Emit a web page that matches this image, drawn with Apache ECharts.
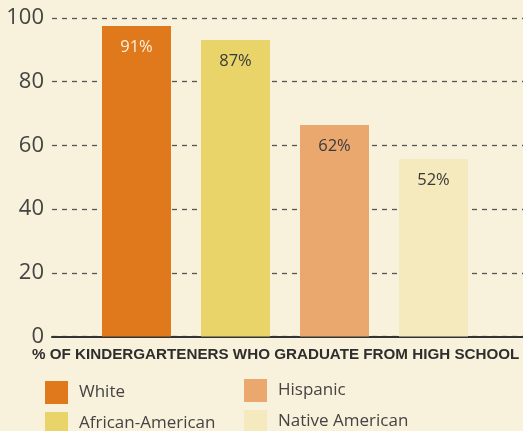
<!DOCTYPE html>
<html>
<head>
<meta charset="utf-8">
<script src="https://cdn.jsdelivr.net/npm/echarts@6/dist/echarts.min.js"></script>
<style>
html,body{margin:0;padding:0;background:#F8F1DB;}
#c{width:523px;height:431px;}
</style>
</head>
<body>
<div id="c"></div>
<script>
const categories = ['White', 'African-American', 'Hispanic', 'Native American'];
const barValues = [97.5, 93.1, 66.4, 55.7];
const barLabels = ['91%', '87%', '62%', '52%'];
const colors = ['#E0791C', '#E8D468', '#EBA86E', '#F5E9BE'];
const labelColors = ['#FAF0DC', '#3A3A3A', '#3A3A3A', '#3A3A3A'];
const yTicks = [0, 20, 40, 60, 80, 100];
const axisTitle = '% OF KINDERGARTENERS WHO GRADUATE FROM HIGH SCHOOL';

const chart = echarts.init(document.getElementById('c'));
const font = '"Open Sans", "Noto Sans", sans-serif';

const series = categories.map((name, i) => ({
  name: name,
  type: 'bar',
  stack: 'all',
  xAxisIndex: 1,
  yAxisIndex: 1,
  barWidth: 69,
  itemStyle: { color: colors[i] },
  label: {
    show: true,
    position: 'insideTop',
    distance: 13,
    color: labelColors[i],
    fontSize: 16.5,
    fontFamily: font,
    formatter: () => barLabels[i]
  },
  data: categories.map((c, j) => (j === i ? barValues[i] : '-'))
}));

const legendPos = [[45, 381], [45, 412], [244, 379], [244, 410]];
const legends = categories.map((name, i) => ({
  left: legendPos[i][0], top: legendPos[i][1],
  itemWidth: 23, itemHeight: 23, padding: 0,
  data: [name],
  textStyle: { color: '#444', fontSize: 17, fontFamily: font, padding: [0, 0, 0, 6] },
  icon: 'rect', selectedMode: false
}));

chart.setOption({
  backgroundColor: '#F8F1DB',
  animation: false,
  grid: [
    { left: 52, right: 0, top: 18, bottom: 94.5 },
    { left: 87, width: 396, top: 18, bottom: 94.5 }
  ],
  xAxis: [
    {
      gridIndex: 0, type: 'category', data: [''],
      axisLine: { show: true, lineStyle: { color: '#333', width: 2 } },
      axisTick: { show: false }, axisLabel: { show: false }
    },
    {
      gridIndex: 1, type: 'category', data: categories,
      axisLine: { show: false }, axisTick: { show: false }, axisLabel: { show: false }
    }
  ],
  yAxis: [
    {
      gridIndex: 0, type: 'value', min: 0, max: 100, interval: 20,
      axisLine: { show: false }, axisTick: { show: false },
      axisLabel: {
        color: '#444', fontSize: 22, fontFamily: font, margin: 8,
        formatter: v => (yTicks.includes(v) ? String(v) : '')
      },
      splitLine: { show: true, lineStyle: { color: '#555', type: [5, 5], width: 1.3 } }
    },
    {
      gridIndex: 1, type: 'value', min: 0, max: 100,
      show: false, splitLine: { show: false }
    }
  ],
  legend: legends,
  graphic: [
    {
      type: 'text', left: 32, top: 347,
      style: {
        text: axisTitle, fill: '#2E2E2E',
        font: 'bold 15.2px "Liberation Sans", Arial, sans-serif'
      }
    }
  ],
  series: series
});
</script>
</body>
</html>
